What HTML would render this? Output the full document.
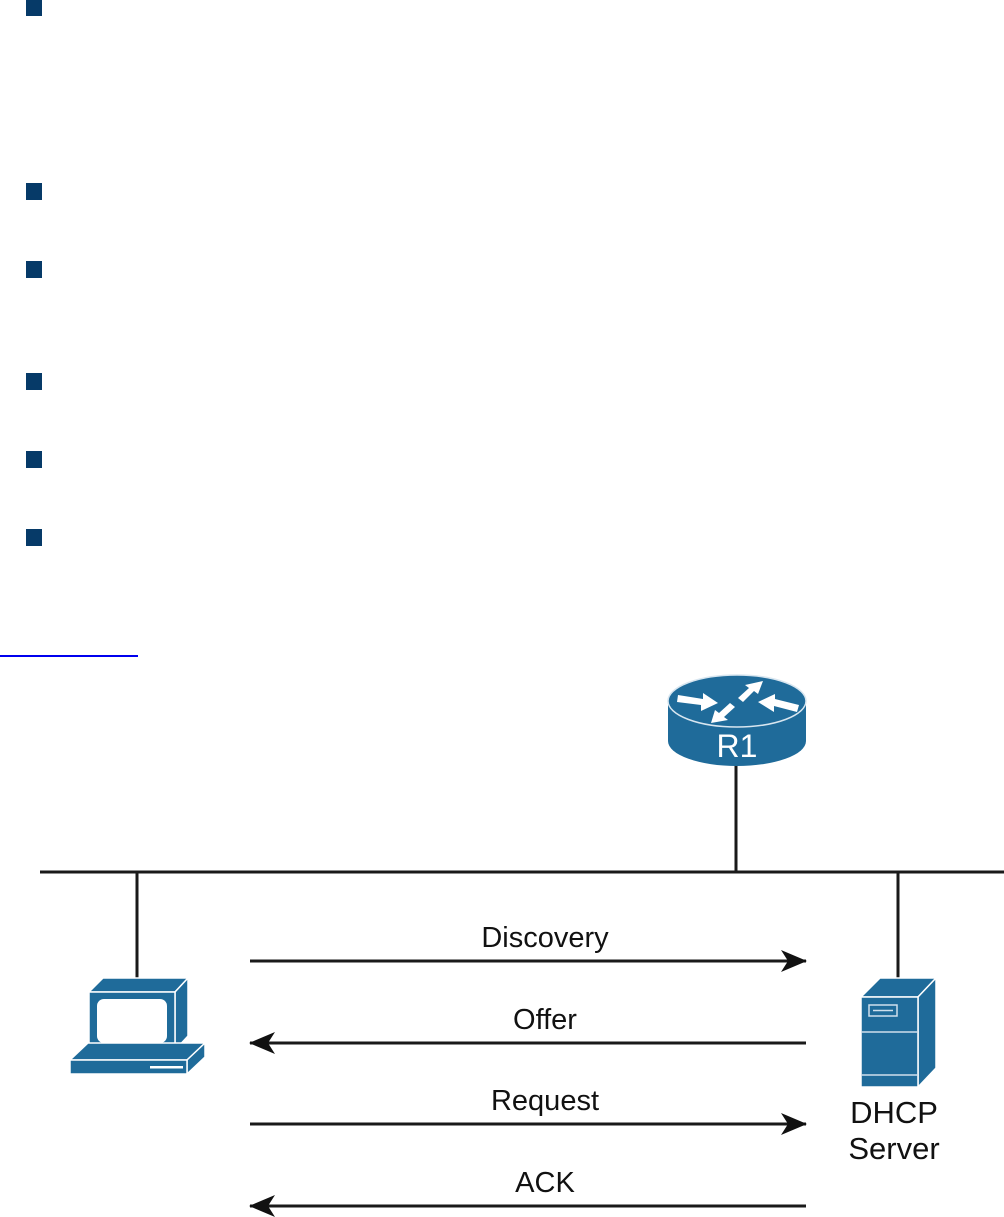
<!DOCTYPE html>
<html><head><meta charset="utf-8"><style>
html,body{margin:0;padding:0;background:#fff;}
body{width:1004px;height:1217px;position:relative;overflow:hidden;font-family:"Liberation Sans",sans-serif;}
.b{position:absolute;left:26px;width:16px;height:17px;background:#063a68;}
</style></head><body>
<div class="b" style="top:-1px"></div>
<div class="b" style="top:183px"></div>
<div class="b" style="top:261px"></div>
<div class="b" style="top:373px"></div>
<div class="b" style="top:451px"></div>
<div class="b" style="top:529px"></div>
<div style="position:absolute;left:0;top:655px;width:138px;height:2px;background:#0000ee"></div>
<svg width="1004" height="1217" style="position:absolute;left:0;top:0" xmlns="http://www.w3.org/2000/svg">
<defs>
<marker id="ah" viewBox="0 0 26 22" refX="25" refY="11" markerWidth="26" markerHeight="22" markerUnits="userSpaceOnUse" orient="auto-start-reverse">
<path d="M0,0 L26,11 L0,22 L7,11 Z" fill="#111"/>
</marker>
</defs>
<g stroke="#1a1a1a" stroke-width="3" fill="none">
<line x1="40" y1="872" x2="1004" y2="872"/>
<line x1="736" y1="765" x2="736" y2="872"/>
<line x1="898" y1="872" x2="898" y2="978"/>
<line x1="137" y1="872" x2="137" y2="980"/>
<line x1="250" y1="961" x2="806" y2="961" marker-end="url(#ah)"/>
<line x1="806" y1="1043" x2="250" y2="1043" marker-end="url(#ah)"/>
<line x1="250" y1="1124" x2="806" y2="1124" marker-end="url(#ah)"/>
<line x1="806" y1="1206" x2="250" y2="1206" marker-end="url(#ah)"/>
</g>
<!-- router -->
<path d="M668,701 L668,741 A69,25 0 0 0 806,741 L806,701 Z" fill="#1f6b9a"/>
<ellipse cx="737" cy="701" rx="69" ry="26" fill="#1f6b9a" stroke="#d8e6f0" stroke-width="1.5"/>
<g fill="#fff">
<path d="M678,695 L703,699 L703,693 L718,703 L701,711 L701,705 L677,702 Z"/>
<path d="M738,698 L749,688 L745,685 L763,681 L758,694 L754,691 L743,702 Z"/>
<path d="M797,712 L774,706 L774,712 L758,702 L775,694 L775,699 L799,705 Z"/>
<path d="M735,707 L724,717 L728,720 L711,723 L715,710 L719,713 L730,703 Z"/>
</g>
<text x="737" y="757" font-size="32" fill="#fff" text-anchor="middle" font-family="Liberation Sans">R1</text>
<!-- PC -->
<g fill="#1f6b9a" stroke="#fff" stroke-width="1.5" stroke-linejoin="round">
<path d="M89,992 L103,978 L188,978 L175,992 Z"/>
<path d="M175,992 L188,978 L188,1036 L175,1050 Z"/>
<rect x="89" y="992" width="86" height="58"/>
<path d="M70,1060 L88,1043 L205,1043 L187,1060 Z"/>
<path d="M187,1060 L205,1043 L205,1057 L187,1074 Z"/>
<rect x="70" y="1060" width="117" height="14"/>
</g>
<rect x="97" y="999" width="70" height="44" rx="7" fill="#fff"/>
<rect x="150" y="1066" width="33" height="2.5" fill="#fff"/>
<!-- server -->
<g fill="#1f6b9a" stroke="#fff" stroke-width="1.5" stroke-linejoin="round">
<path d="M861,997 L880,978 L936,978 L918,997 Z"/>
<path d="M918,997 L936,978 L936,1068 L918,1087 Z"/>
<rect x="861" y="997" width="57" height="90"/>
</g>
<line x1="861" y1="1032" x2="918" y2="1032" stroke="#cfe0ec" stroke-width="1.5"/>
<line x1="861" y1="1075" x2="918" y2="1075" stroke="#cfe0ec" stroke-width="1.5"/>
<rect x="869" y="1005" width="28" height="11" fill="none" stroke="#cfe0ec" stroke-width="1.5"/>
<line x1="873" y1="1010.5" x2="893" y2="1010.5" stroke="#cfe0ec" stroke-width="1.5"/>
<g font-family="Liberation Sans" font-size="29" fill="#111" text-anchor="middle">
<text x="545" y="947">Discovery</text>
<text x="545" y="1029">Offer</text>
<text x="545" y="1110">Request</text>
<text x="545" y="1192">ACK</text>
<text x="894" y="1123" font-size="31">DHCP</text>
<text x="894" y="1159" font-size="31">Server</text>
</g>
</svg>
</body></html>
